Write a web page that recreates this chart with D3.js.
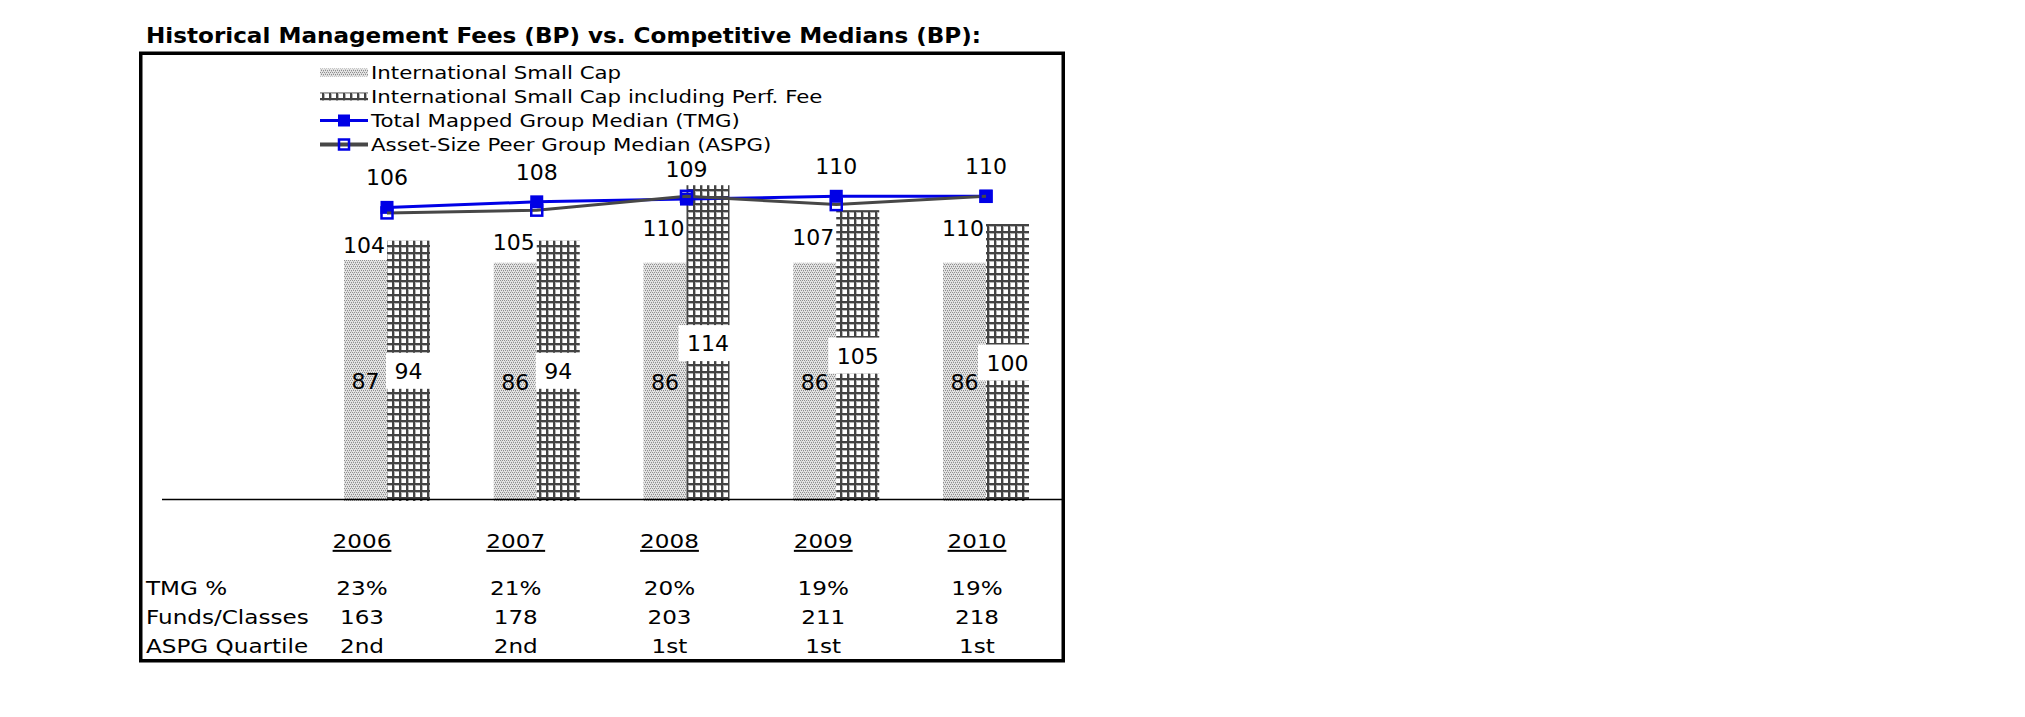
<!DOCTYPE html>
<html><head><meta charset="utf-8">
<script src="https://cdn.jsdelivr.net/npm/d3@7"></script>
<style>
html,body{margin:0;padding:0;background:#fff;}
svg{display:block;}
text{font-family:"DejaVu Sans",Verdana,sans-serif;fill:#000;}
</style></head><body>
<svg id="chart" width="2025" height="717"></svg>
<script>
// ---------- data ----------
const years = ["2006","2007","2008","2009","2010"];
const intlSmallCap = [87,86,86,86,86];
const intlSmallCapPerf = [94,94,114,105,100];
const tmgMedian = [106,108,109,110,110];
const aspgMedian = [104,105,110,107,110];
const seriesNames = ["International Small Cap","International Small Cap including Perf. Fee","Total Mapped Group Median (TMG)","Asset-Size Peer Group Median (ASPG)"];
const chartTitle = "Historical Management Fees (BP) vs. Competitive Medians (BP):";
const tableRowLabels = ["TMG %","Funds/Classes","ASPG Quartile"];
const tmgPct = ["23%","21%","20%","19%","19%"];
const fundsClasses = ["163","178","203","211","218"];
const aspgQuartile = ["2nd","2nd","1st","1st","1st"];

// ---------- setup ----------
const svg = d3.select("#chart");
const defs = svg.append("defs");

const stip = defs.append("pattern").attr("id","stipple").attr("patternUnits","userSpaceOnUse").attr("width",4).attr("height",4);
stip.append("rect").attr("width",4).attr("height",4).attr("fill","#e4e4e4");
[[0,0],[2,0],[1,2],[3,2]].forEach(([px,py]) =>
  stip.append("rect").attr("x",px).attr("y",py).attr("width",1).attr("height",1).attr("fill","#8e8e8e"));
[[1,1],[3,3]].forEach(([px,py]) =>
  stip.append("rect").attr("x",px).attr("y",py).attr("width",1).attr("height",1).attr("fill","#c2c2c2"));

const grid = defs.append("pattern").attr("id","grid").attr("patternUnits","userSpaceOnUse").attr("width",7).attr("height",7);
grid.append("rect").attr("width",7).attr("height",7).attr("fill","#ffffff");
grid.append("rect").attr("x",0).attr("y",0).attr("width",2).attr("height",7).attr("fill","#434343");
grid.append("rect").attr("x",0).attr("y",0).attr("width",7).attr("height",2).attr("fill","#434343");
grid.append("rect").attr("x",2).attr("y",2).attr("width",1).attr("height",5).attr("fill","#b4b4b4");
grid.append("rect").attr("x",2).attr("y",2).attr("width",5).attr("height",1).attr("fill","#b4b4b4");

const BLUE = "#0000e6", GRAY = "#474747";
const barW = 43;

const x = d3.scalePoint().domain(years).range([387, 986]);
const y = d3.scaleLinear().domain([0, 120]).range([501, 168.6]);
const xt = d3.scalePoint().domain(years).range([362, 977]);

function stext(g, px, py, str, size, sx, anchor, weight) {
  return g.append("text")
    .attr("transform", `translate(${px},${py}) scale(${sx},1)`)
    .attr("text-anchor", anchor || "start")
    .style("font-size", size + "px")
    .style("font-weight", weight || "normal")
    .text(str);
}

// ---------- title & frame ----------
stext(svg, 146, 43, chartTitle, 20.5, 1.127, "start", "bold");
svg.append("rect").attr("x",140.75).attr("y",53.25).attr("width",922.5).attr("height",607.5)
  .attr("fill","none").attr("stroke","#000").attr("stroke-width",3.5);

// ---------- legend ----------
const leg = svg.append("g");
const legX0 = 320, legX1 = 368, legTX = 371;
seriesNames.forEach((name, i) => {
  const base = 79 + i * 24;
  const cy = base - 6.5;
  if (i === 0 || i === 1) {
    leg.append("rect").attr("x", legX0).attr("y", cy - 4).attr("width", legX1 - legX0).attr("height", 8)
      .attr("fill", i === 0 ? "url(#stipple)" : "url(#grid)");
  } else if (i === 2) {
    leg.append("line").attr("x1", legX0).attr("x2", legX1).attr("y1", cy).attr("y2", cy).attr("stroke", BLUE).attr("stroke-width", 3);
    leg.append("rect").attr("x", 344 - 6).attr("y", cy - 6).attr("width", 12).attr("height", 12).attr("fill", BLUE);
  } else {
    leg.append("line").attr("x1", legX0).attr("x2", legX1).attr("y1", cy).attr("y2", cy).attr("stroke", GRAY).attr("stroke-width", 4);
    leg.append("rect").attr("x", 344 - 5).attr("y", cy - 5).attr("width", 10).attr("height", 10).attr("fill", "none").attr("stroke", BLUE).attr("stroke-width", 2.5);
  }
  stext(leg, legTX, base, name, 18, 1.184, "start");
});

// ---------- bars ----------
const bars = svg.append("g");
bars.selectAll("rect.light").data(years).join("rect").attr("class","light")
  .attr("x", d => x(d) - barW).attr("width", barW)
  .attr("y", (d,i) => y(intlSmallCap[i])).attr("height", (d,i) => y(0) - y(intlSmallCap[i]))
  .attr("fill", "url(#stipple)");
bars.selectAll("rect.dark").data(years).join("rect").attr("class","dark")
  .attr("x", d => x(d)).attr("width", barW)
  .attr("y", (d,i) => y(intlSmallCapPerf[i])).attr("height", (d,i) => y(0) - y(intlSmallCapPerf[i]))
  .attr("fill", "url(#grid)");

// baseline
svg.append("line").attr("x1", 162).attr("x2", 1062).attr("y1", y(0) - 1.5).attr("y2", y(0) - 1.5)
  .attr("stroke", "#000").attr("stroke-width", 1.5);

// bar labels
const bl = svg.append("g").style("font-size","22px");
years.forEach((yr, i) => {
  const mid = (y(intlSmallCap[i]) + y(0)) / 2;
  bl.append("text").attr("x", x(yr) - barW/2).attr("y", mid + 8).attr("text-anchor","middle").text(intlSmallCap[i]);
});
years.forEach((yr, i) => {
  const mid = (y(intlSmallCapPerf[i]) + y(0)) / 2;
  const cx = x(yr) + barW/2;
  const bg = bl.append("rect").attr("fill","#fff");
  const t = bl.append("text").attr("x", cx).attr("y", mid + 8).attr("text-anchor","middle").text(intlSmallCapPerf[i]);
  const w = t.node().getComputedTextLength();
  bg.attr("x", cx - w/2 - 8.5).attr("width", w + 17).attr("y", mid - 18).attr("height", 36);
});

// ---------- lines ----------
const lineGen = arr => d3.line().x((d,i) => x(years[i])).y(d => y(d))(arr);
const lg = svg.append("g");
lg.append("path").attr("d", lineGen(tmgMedian)).attr("fill","none").attr("stroke",BLUE).attr("stroke-width",3);
lg.selectAll("rect.tmg").data(tmgMedian).join("rect").attr("class","tmg")
  .attr("x", (d,i) => x(years[i]) - 6.5).attr("y", d => y(d) - 6.5).attr("width", 13).attr("height", 13).attr("fill", BLUE);
lg.append("path").attr("d", lineGen(aspgMedian)).attr("fill","none").attr("stroke",GRAY).attr("stroke-width",3);
lg.selectAll("rect.aspg").data(aspgMedian).join("rect").attr("class","aspg")
  .attr("x", (d,i) => x(years[i]) - 5.5).attr("y", d => y(d) - 5.5).attr("width", 11).attr("height", 11)
  .attr("fill", "none").attr("stroke", BLUE).attr("stroke-width", 2.5);

// line labels
const ll = svg.append("g").style("font-size","22px");
tmgMedian.forEach((v, i) => {
  ll.append("text").attr("x", x(years[i])).attr("y", y(v) - 22).attr("text-anchor","middle").text(v);
});
aspgMedian.forEach((v, i) => {
  ll.append("text").attr("x", x(years[i]) - 2).attr("y", y(v) + 40).attr("text-anchor","end").text(v);
});

// ---------- table ----------
const tb = svg.append("g");
years.forEach(yr => {
  stext(tb, xt(yr), 548, yr, 20, 1.155, "middle").style("text-decoration","underline");
});
const rowsBase = [595, 624, 653];
const rowVals = [tmgPct, fundsClasses, aspgQuartile];
tableRowLabels.forEach((lab, r) => {
  stext(tb, 146, rowsBase[r], lab, 20, 1.155, "start");
  rowVals[r].forEach((v, i) => stext(tb, xt(years[i]), rowsBase[r], v, 20, 1.155, "middle"));
});
</script>
</body></html>
